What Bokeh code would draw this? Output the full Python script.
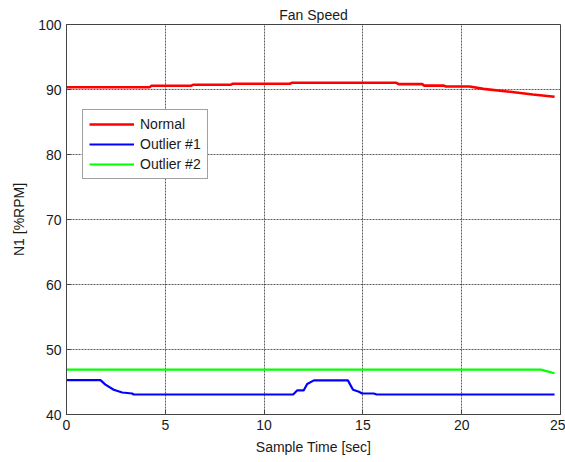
from bokeh.plotting import figure
from bokeh.models import Range1d, FixedTicker, Legend, LegendItem
from bokeh.embed import file_html
from bokeh.resources import INLINE

# Data
normal_t = [0, 4.2, 4.3, 6.3, 6.4, 8.3, 8.4, 11.3, 11.4, 16.7, 16.8, 18.0, 18.1, 19.1, 19.2, 20.4, 21.1, 22.3, 23.6, 24.7]
normal_v = [90.35, 90.35, 90.57, 90.57, 90.72, 90.72, 90.88, 90.88, 91.03, 91.03, 90.83, 90.83, 90.6, 90.6, 90.46, 90.46, 90.1, 89.7, 89.23, 88.88]

outlier1_t = [0, 1.72, 1.97, 2.39, 2.82, 3.32, 3.4, 11.47, 11.67, 12.0, 12.18, 12.52, 14.24, 14.5, 14.8, 14.96, 15.55, 15.7, 24.7]
outlier1_v = [45.28, 45.28, 44.6, 43.8, 43.38, 43.23, 43.08, 43.08, 43.7, 43.7, 44.7, 45.25, 45.25, 43.8, 43.5, 43.23, 43.23, 43.08, 43.08]

outlier2_t = [0, 24.0, 24.7]
outlier2_v = [46.9, 46.9, 46.35]

series_names = ["Normal", "Outlier #1", "Outlier #2"]
x_ticks = [0, 5, 10, 15, 20, 25]
y_ticks = [40, 50, 60, 70, 80, 90, 100]

FONT = "Liberation Sans"

p = figure(width=565, height=462, output_backend="svg", toolbar_location=None,
           x_range=Range1d(0, 25), y_range=Range1d(40, 100),
           min_border_left=66, min_border_right=5, min_border_top=24, min_border_bottom=48,
           title="Fan Speed")

p.title.text_font = FONT
p.title.text_font_size = "14px"
p.title.text_font_style = "normal"
p.title.align = "center"
p.title.text_color = "#1a1a1a"
p.title.standoff = 3
p.title.offset = 0

p.background_fill_color = "white"
p.border_fill_color = "white"
p.outline_line_color = "#444444"
p.outline_line_width = 1

for ax in (p.xaxis[0], p.yaxis[0]):
    ax.axis_line_color = "#444444"
    ax.major_tick_in = 5
    ax.major_tick_out = 0
    ax.minor_tick_line_color = None
    ax.major_tick_line_color = "#444444"
    ax.major_label_text_font = FONT
    ax.major_label_text_font_size = "14px"
    ax.major_label_text_color = "#1a1a1a"
    ax.axis_label_text_font = FONT
    ax.axis_label_text_font_size = "14px"
    ax.axis_label_text_font_style = "normal"
    ax.axis_label_text_color = "#1a1a1a"

p.xaxis.ticker = FixedTicker(ticks=x_ticks)
p.yaxis.ticker = FixedTicker(ticks=y_ticks)
p.xaxis.axis_label = "Sample Time [sec]"
p.yaxis.axis_label = "N1 [%RPM]"
p.xaxis.axis_label_standoff = 6
p.yaxis.axis_label_standoff = 8

p.xgrid.ticker = FixedTicker(ticks=x_ticks)
p.ygrid.ticker = FixedTicker(ticks=y_ticks)
for g in (p.xgrid[0], p.ygrid[0]):
    g.grid_line_color = "#333333"
    g.grid_line_dash = "2 1"
    g.grid_line_width = 1
    g.grid_line_alpha = 0.8

r1 = p.line(normal_t, normal_v, line_color="#FF0000", line_width=2.6)
r2 = p.line(outlier1_t, outlier1_v, line_color="#0000FF", line_width=2.2)
r3 = p.line(outlier2_t, outlier2_v, line_color="#00FF00", line_width=2.2)

legend = Legend(items=[LegendItem(label=series_names[0], renderers=[r1]),
                       LegendItem(label=series_names[1], renderers=[r2]),
                       LegendItem(label=series_names[2], renderers=[r3])],
                location=(16, 235))
legend.label_text_font = FONT
legend.label_text_font_size = "14px"
legend.label_text_color = "#1a1a1a"
legend.glyph_width = 45
legend.glyph_height = 16
legend.label_height = 16
legend.spacing = 4
legend.padding = 6
legend.margin = 0
legend.label_standoff = 6
legend.border_line_color = "#444444"
legend.border_line_width = 1
legend.background_fill_color = "white"
legend.background_fill_alpha = 1
p.add_layout(legend, "center")

open("out.html", "w").write(file_html(p, INLINE))
